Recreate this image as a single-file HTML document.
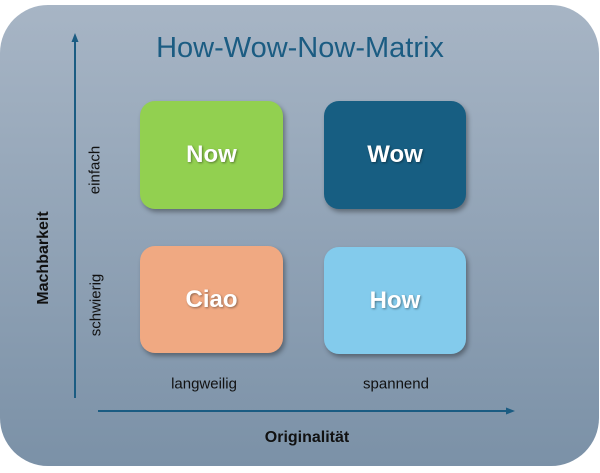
<!DOCTYPE html>
<html><head><style>
body{margin:0;width:600px;height:473px;background:#fff;position:relative;overflow:hidden;font-family:"Liberation Sans",sans-serif}
.bg{position:absolute;left:0;top:5px;width:599px;height:461px;border-radius:48px;background:linear-gradient(#a7b5c5,#7b91a7)}
.box{position:absolute;border-radius:15px;color:#fff;font-weight:bold;font-size:24px;display:flex;align-items:center;justify-content:center;box-shadow:2px 3px 5px rgba(0,0,0,.35);text-shadow:1px 1px 2px rgba(0,0,0,.4)}
.t{position:absolute;color:#111;font-size:15px;white-space:nowrap}
.r{transform:translate(-50%,-50%) rotate(-90deg)}
</style></head><body>
<div class="bg"></div>
<div style="position:absolute;left:0;width:600px;top:32px;text-align:center;font-size:29px;color:#1b5c82">How-Wow-Now-Matrix</div>
<div class="box" style="left:140px;top:101px;width:143px;height:108px;background:#92d050">Now</div>
<div class="box" style="left:324px;top:101px;width:142px;height:108px;background:#175e82">Wow</div>
<div class="box" style="left:140px;top:246px;width:143px;height:107px;background:#f0a982">Ciao</div>
<div class="box" style="left:324px;top:247px;width:142px;height:107px;background:#83cbec">How</div>
<svg style="position:absolute;left:0;top:0" width="600" height="473">
<line x1="75" y1="398" x2="75" y2="40" stroke="#1b5c82" stroke-width="2"/>
<polygon points="75,33 71.5,42 78.5,42" fill="#1b5c82"/>
<line x1="98" y1="411" x2="508" y2="411" stroke="#1b5c82" stroke-width="2"/>
<polygon points="515,411 506,407.5 506,414.5" fill="#1b5c82"/>
</svg>
<div class="t r" style="left:44px;top:258px;font-weight:bold;font-size:16px">Machbarkeit</div>
<div class="t r" style="left:95px;top:170px">einfach</div>
<div class="t r" style="left:96px;top:305px">schwierig</div>
<div class="t" style="left:204px;top:384px;transform:translate(-50%,-50%)">langweilig</div>
<div class="t" style="left:396px;top:384px;transform:translate(-50%,-50%)">spannend</div>
<div class="t" style="left:307px;top:438px;transform:translate(-50%,-50%);font-weight:bold;font-size:16px">Originalität</div>
</body></html>
